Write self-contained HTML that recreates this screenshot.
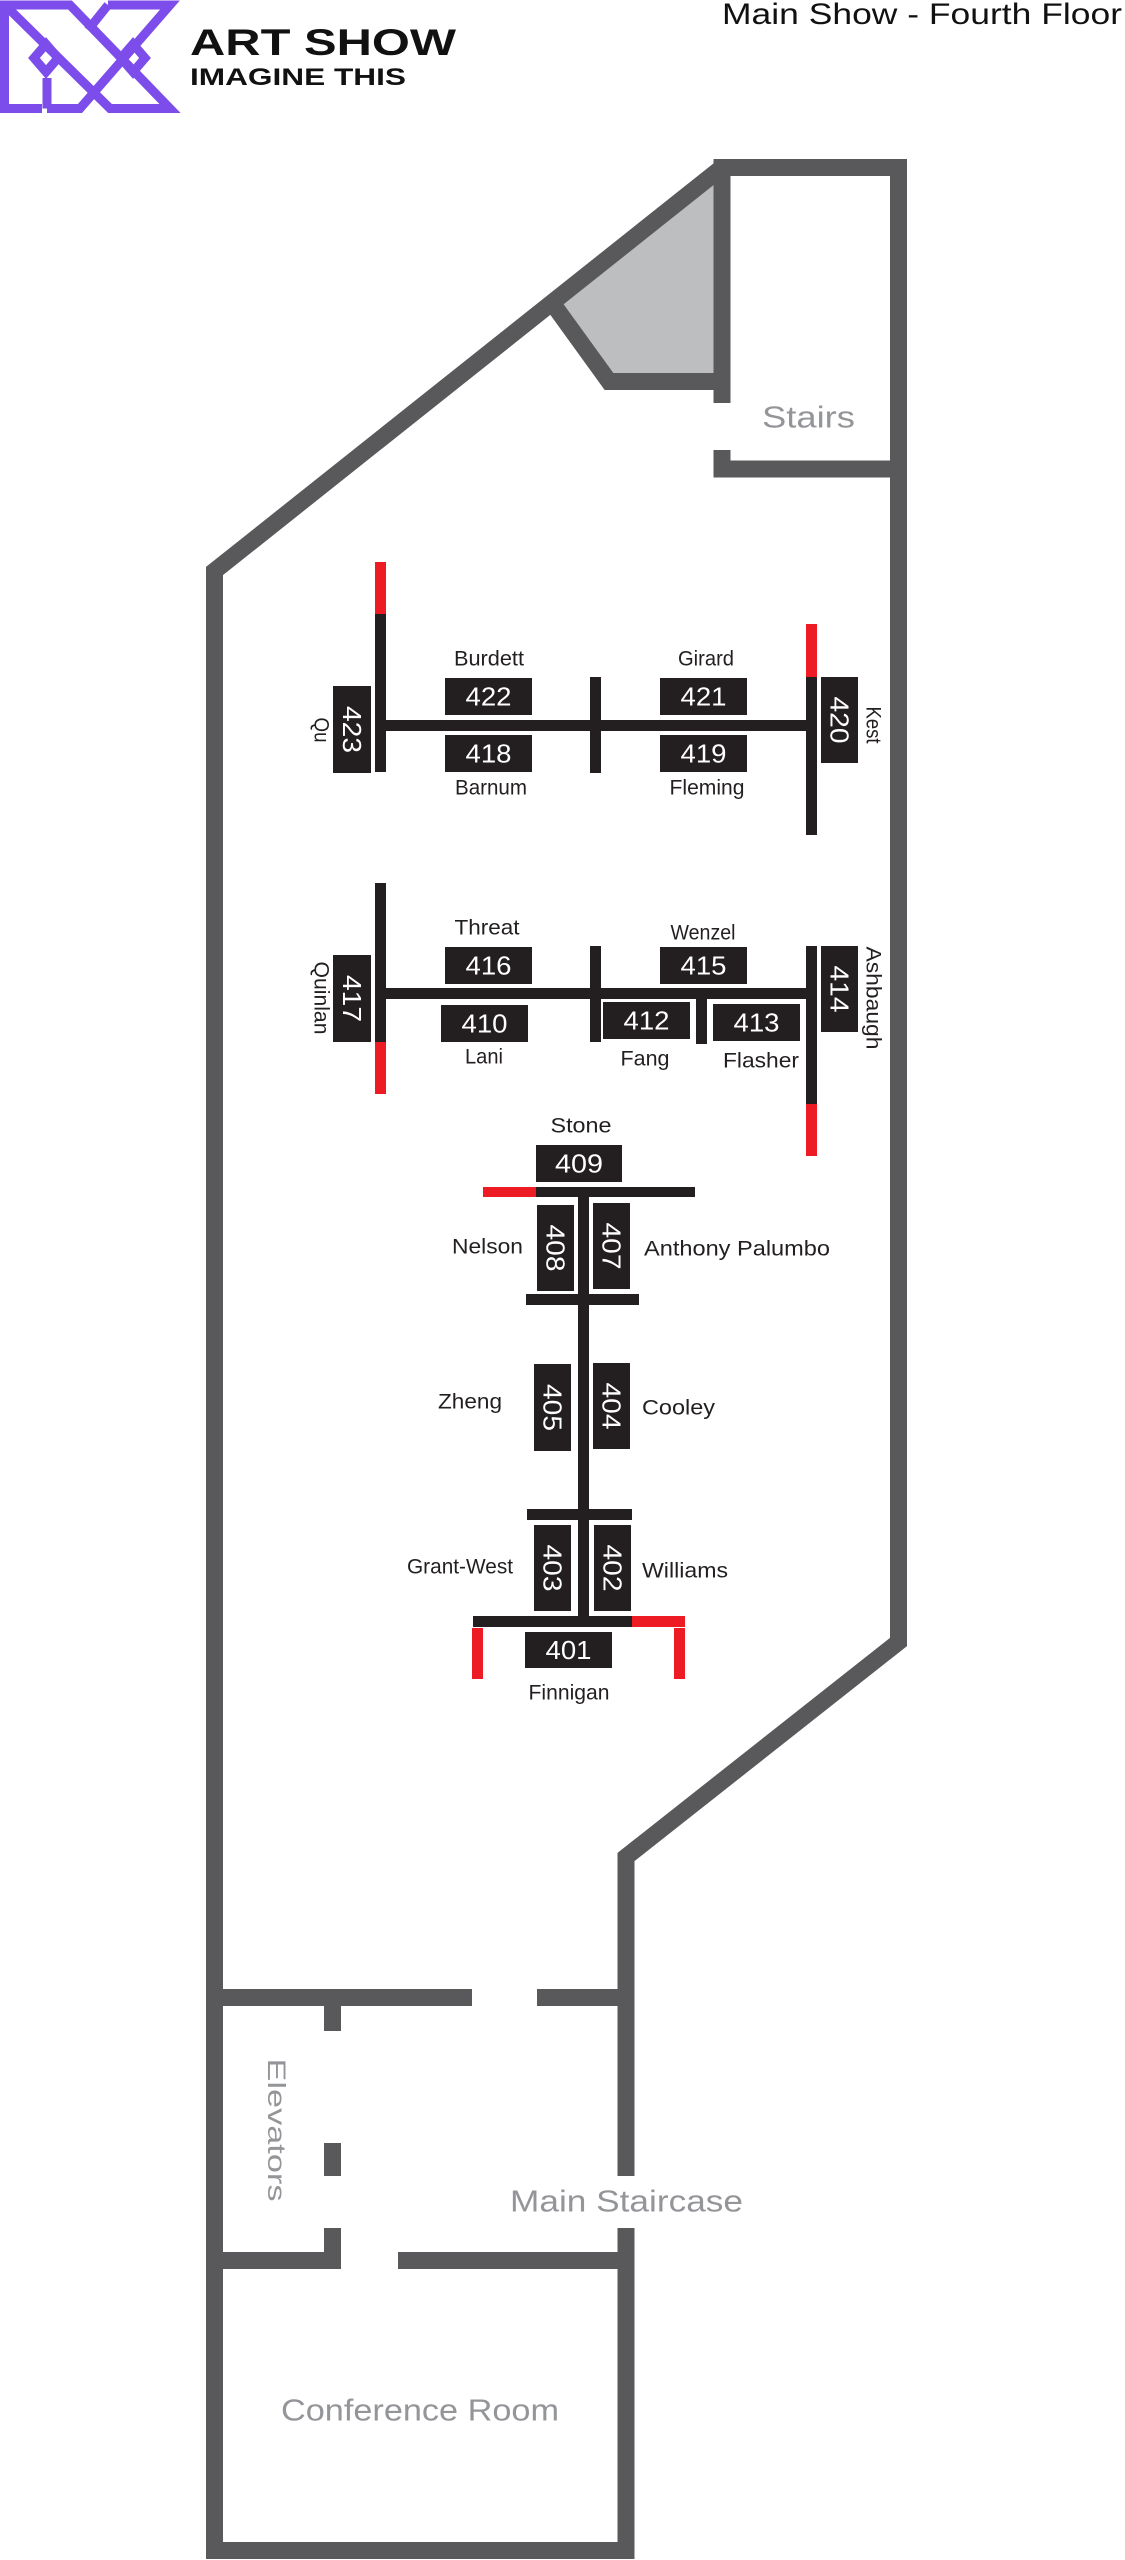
<!DOCTYPE html>
<html>
<head>
<meta charset="utf-8">
<style>
  html,body{margin:0;padding:0;background:#fff;}
  body{width:1125px;height:2560px;overflow:hidden;}
  svg{display:block;}
  .lbl{font-family:"Liberation Sans",Arial,sans-serif;font-size:21px;fill:#231f20;dominant-baseline:central;}
  .num{font-family:"Liberation Sans",Arial,sans-serif;font-size:26px;fill:#fff;dominant-baseline:central;text-anchor:middle;}
  .room{font-family:"Liberation Sans",Arial,sans-serif;font-size:31px;fill:#939598;dominant-baseline:central;}
</style>
</head>
<body>
<svg width="1125" height="2560" viewBox="0 0 1125 2560" xmlns="http://www.w3.org/2000/svg">
  <!-- Logo -->
  <g fill="none" stroke="#7c4dea" stroke-width="9" stroke-linejoin="miter">
    <polyline points="4.5,113 4.5,5 70,5 170,108.5 110,108.5 9,9"/>
    <polyline points="108,5 170,5 80,108.5 47,108.5"/>
    <polyline points="108,5 88,30"/>
    <line x1="47" y1="108.5" x2="47" y2="78"/>
    <line x1="4.5" y1="108.5" x2="42" y2="108.5"/>
    <polygon points="46,44 58,58 46,72 34,58"/>
    <polygon points="133,44 145,58 133,72 121,58"/>
  </g>
  <text x="190" y="55" font-family="Liberation Sans,Arial,sans-serif" font-weight="bold" font-size="37" fill="#111" textLength="266" lengthAdjust="spacingAndGlyphs">ART SHOW</text>
  <text x="190" y="85" font-family="Liberation Sans,Arial,sans-serif" font-weight="bold" font-size="24" fill="#111" textLength="216" lengthAdjust="spacingAndGlyphs">IMAGINE THIS</text>
  <text x="722" y="24" font-family="Liberation Sans,Arial,sans-serif" font-size="30" fill="#111" textLength="400" lengthAdjust="spacingAndGlyphs">Main Show - Fourth Floor</text>

  <!-- Shaded area -->
  <polygon points="722,167 550,304 610,382 722,382" fill="#bcbec0"/>

  <!-- Walls -->
  <g fill="none" stroke="#59595b" stroke-width="17" stroke-linejoin="miter" stroke-miterlimit="10">
    <polyline points="214.5,2559 214.5,571 722,167.5 898.5,167.5 898.5,1642 626,1857 626,2176"/>
    <polyline points="626,2228 626,2550.5 206,2550.5"/>
    <polyline points="552,302.7 609,381.5 722,381.5"/>
  </g>
  <g fill="#59595b">
    <rect x="713.5" y="159" width="17" height="244"/>
    <rect x="713.5" y="450" width="17" height="27"/>
    <rect x="713.5" y="460.5" width="193.5" height="17"/>
    <!-- elevator area -->
    <rect x="206" y="1989" width="266" height="17"/>
    <rect x="537" y="1989" width="97" height="17"/>
    <rect x="324" y="2006" width="17" height="25"/>
    <rect x="324" y="2143" width="17" height="33"/>
    <rect x="324" y="2228" width="17" height="41"/>
    <rect x="206" y="2252" width="135" height="17"/>
    <rect x="398" y="2252" width="236" height="17"/>
  </g>

  <!-- Room labels -->
  <text class="room" x="762" y="417" textLength="93" lengthAdjust="spacingAndGlyphs">Stairs</text>
  <text class="room" x="276" y="2130" text-anchor="middle" font-size="25" style="font-size:25px" transform="rotate(90 276 2130)" textLength="143" lengthAdjust="spacingAndGlyphs">Elevators</text>
  <text class="room" x="510" y="2201" textLength="233" lengthAdjust="spacingAndGlyphs">Main Staircase</text>
  <text class="room" x="281" y="2410" textLength="278" lengthAdjust="spacingAndGlyphs">Conference Room</text>

  <!-- Row 1 -->
  <g fill="#231f20">
    <rect x="375" y="614" width="11" height="158"/>
    <rect x="386" y="720" width="420" height="11"/>
    <rect x="590" y="677" width="11" height="96"/>
    <rect x="806" y="677" width="11" height="158"/>
    <rect x="333" y="686" width="38" height="87"/>
    <rect x="445" y="678" width="87" height="37"/>
    <rect x="445" y="735" width="87" height="37"/>
    <rect x="660" y="678" width="87" height="37"/>
    <rect x="660" y="735" width="87" height="37"/>
    <rect x="821" y="677" width="37" height="86"/>
  </g>
  <g fill="#ed1c24">
    <rect x="375" y="562" width="11" height="52"/>
    <rect x="806" y="624" width="11" height="53"/>
  </g>
  <text class="num" x="352" y="729.5" transform="rotate(90 352 729.5)" textLength="47" lengthAdjust="spacingAndGlyphs">423</text>
  <text class="num" x="488.5" y="696.5" textLength="46" lengthAdjust="spacingAndGlyphs">422</text>
  <text class="num" x="488.5" y="753.5" textLength="46" lengthAdjust="spacingAndGlyphs">418</text>
  <text class="num" x="703.5" y="696.5" textLength="46" lengthAdjust="spacingAndGlyphs">421</text>
  <text class="num" x="703.5" y="753.5" textLength="46" lengthAdjust="spacingAndGlyphs">419</text>
  <text class="num" x="839.5" y="720" transform="rotate(90 839.5 720)" textLength="47" lengthAdjust="spacingAndGlyphs">420</text>

  <text class="lbl" x="489" y="659" text-anchor="middle" textLength="70" lengthAdjust="spacingAndGlyphs">Burdett</text>
  <text class="lbl" x="491" y="788" text-anchor="middle" textLength="72" lengthAdjust="spacingAndGlyphs">Barnum</text>
  <text class="lbl" x="706" y="659" text-anchor="middle" textLength="56" lengthAdjust="spacingAndGlyphs">Girard</text>
  <text class="lbl" x="707" y="788" text-anchor="middle" textLength="75" lengthAdjust="spacingAndGlyphs">Fleming</text>
  <text class="lbl" x="321" y="730" text-anchor="middle" transform="rotate(90 321 730)" textLength="25" lengthAdjust="spacingAndGlyphs">Qu</text>
  <text class="lbl" x="873" y="725" text-anchor="middle" transform="rotate(90 873 725)" textLength="37" lengthAdjust="spacingAndGlyphs">Kest</text>

  <!-- Row 2 -->
  <g fill="#231f20">
    <rect x="375" y="883" width="11" height="159"/>
    <rect x="386" y="988" width="420" height="11"/>
    <rect x="590" y="946" width="11" height="96"/>
    <rect x="696" y="999" width="11" height="45"/>
    <rect x="806" y="946" width="11" height="158"/>
    <rect x="333" y="955" width="38" height="87"/>
    <rect x="445" y="947" width="87" height="37"/>
    <rect x="660" y="947" width="87" height="37"/>
    <rect x="441" y="1005" width="87" height="37"/>
    <rect x="603" y="1002" width="87" height="37"/>
    <rect x="713" y="1004" width="87" height="37"/>
    <rect x="821" y="946" width="37" height="86"/>
  </g>
  <g fill="#ed1c24">
    <rect x="375" y="1042" width="11" height="52"/>
    <rect x="806" y="1104" width="11" height="52"/>
  </g>
  <text class="num" x="352" y="998.5" transform="rotate(90 352 998.5)" textLength="47" lengthAdjust="spacingAndGlyphs">417</text>
  <text class="num" x="488.5" y="965.5" textLength="46" lengthAdjust="spacingAndGlyphs">416</text>
  <text class="num" x="703.5" y="965.5" textLength="46" lengthAdjust="spacingAndGlyphs">415</text>
  <text class="num" x="484.5" y="1023.5" textLength="46" lengthAdjust="spacingAndGlyphs">410</text>
  <text class="num" x="646.5" y="1020.5" textLength="46" lengthAdjust="spacingAndGlyphs">412</text>
  <text class="num" x="756.5" y="1022.5" textLength="46" lengthAdjust="spacingAndGlyphs">413</text>
  <text class="num" x="839.5" y="989" transform="rotate(90 839.5 989)" textLength="47" lengthAdjust="spacingAndGlyphs">414</text>

  <text class="lbl" x="487" y="928" text-anchor="middle" textLength="65" lengthAdjust="spacingAndGlyphs">Threat</text>
  <text class="lbl" x="703" y="933" text-anchor="middle" textLength="65" lengthAdjust="spacingAndGlyphs">Wenzel</text>
  <text class="lbl" x="484" y="1057" text-anchor="middle" textLength="38" lengthAdjust="spacingAndGlyphs">Lani</text>
  <text class="lbl" x="645" y="1059" text-anchor="middle" textLength="49" lengthAdjust="spacingAndGlyphs">Fang</text>
  <text class="lbl" x="761" y="1061" text-anchor="middle" textLength="76" lengthAdjust="spacingAndGlyphs">Flasher</text>
  <text class="lbl" x="321" y="998" text-anchor="middle" transform="rotate(90 321 998)" textLength="73" lengthAdjust="spacingAndGlyphs">Quinlan</text>
  <text class="lbl" x="873" y="998" text-anchor="middle" transform="rotate(90 873 998)" textLength="103" lengthAdjust="spacingAndGlyphs">Ashbaugh</text>

  <!-- Stone column -->
  <g fill="#231f20">
    <rect x="536" y="1145" width="86" height="37"/>
    <rect x="536" y="1187" width="159" height="10"/>
    <rect x="578" y="1197" width="11" height="419"/>
    <rect x="537" y="1205" width="37" height="86"/>
    <rect x="593" y="1203" width="37" height="86"/>
    <rect x="526" y="1294" width="113" height="11"/>
    <rect x="534" y="1364" width="37" height="87"/>
    <rect x="593" y="1363" width="37" height="86"/>
    <rect x="527" y="1509" width="105" height="11"/>
    <rect x="534" y="1525" width="37" height="86"/>
    <rect x="594" y="1525" width="37" height="86"/>
    <rect x="473" y="1616" width="159" height="11"/>
    <rect x="525" y="1632" width="87" height="36"/>
  </g>
  <g fill="#ed1c24">
    <rect x="483" y="1187" width="53" height="10"/>
    <rect x="632" y="1616" width="53" height="11"/>
    <rect x="472" y="1628" width="11" height="51"/>
    <rect x="674" y="1628" width="11" height="51"/>
  </g>
  <text class="num" x="579" y="1163.5" textLength="48" lengthAdjust="spacingAndGlyphs">409</text>
  <text class="num" x="555.5" y="1248" transform="rotate(90 555.5 1248)" textLength="47" lengthAdjust="spacingAndGlyphs">408</text>
  <text class="num" x="611.5" y="1246" transform="rotate(90 611.5 1246)" textLength="47" lengthAdjust="spacingAndGlyphs">407</text>
  <text class="num" x="552.5" y="1407.5" transform="rotate(90 552.5 1407.5)" textLength="47" lengthAdjust="spacingAndGlyphs">405</text>
  <text class="num" x="611.5" y="1406" transform="rotate(90 611.5 1406)" textLength="47" lengthAdjust="spacingAndGlyphs">404</text>
  <text class="num" x="552.5" y="1568" transform="rotate(90 552.5 1568)" textLength="47" lengthAdjust="spacingAndGlyphs">403</text>
  <text class="num" x="612.5" y="1568" transform="rotate(90 612.5 1568)" textLength="47" lengthAdjust="spacingAndGlyphs">402</text>
  <text class="num" x="568.5" y="1650" textLength="46" lengthAdjust="spacingAndGlyphs">401</text>

  <text class="lbl" x="581" y="1126" text-anchor="middle" textLength="61" lengthAdjust="spacingAndGlyphs">Stone</text>
  <text class="lbl" x="523" y="1247" text-anchor="end" textLength="71" lengthAdjust="spacingAndGlyphs">Nelson</text>
  <text class="lbl" x="644" y="1249" textLength="186" lengthAdjust="spacingAndGlyphs">Anthony Palumbo</text>
  <text class="lbl" x="502" y="1402" text-anchor="end" textLength="64" lengthAdjust="spacingAndGlyphs">Zheng</text>
  <text class="lbl" x="642" y="1408" textLength="73" lengthAdjust="spacingAndGlyphs">Cooley</text>
  <text class="lbl" x="513" y="1567" text-anchor="end" textLength="106" lengthAdjust="spacingAndGlyphs">Grant-West</text>
  <text class="lbl" x="642" y="1571" textLength="86" lengthAdjust="spacingAndGlyphs">Williams</text>
  <text class="lbl" x="569" y="1693" text-anchor="middle" textLength="81" lengthAdjust="spacingAndGlyphs">Finnigan</text>
</svg>
</body>
</html>
